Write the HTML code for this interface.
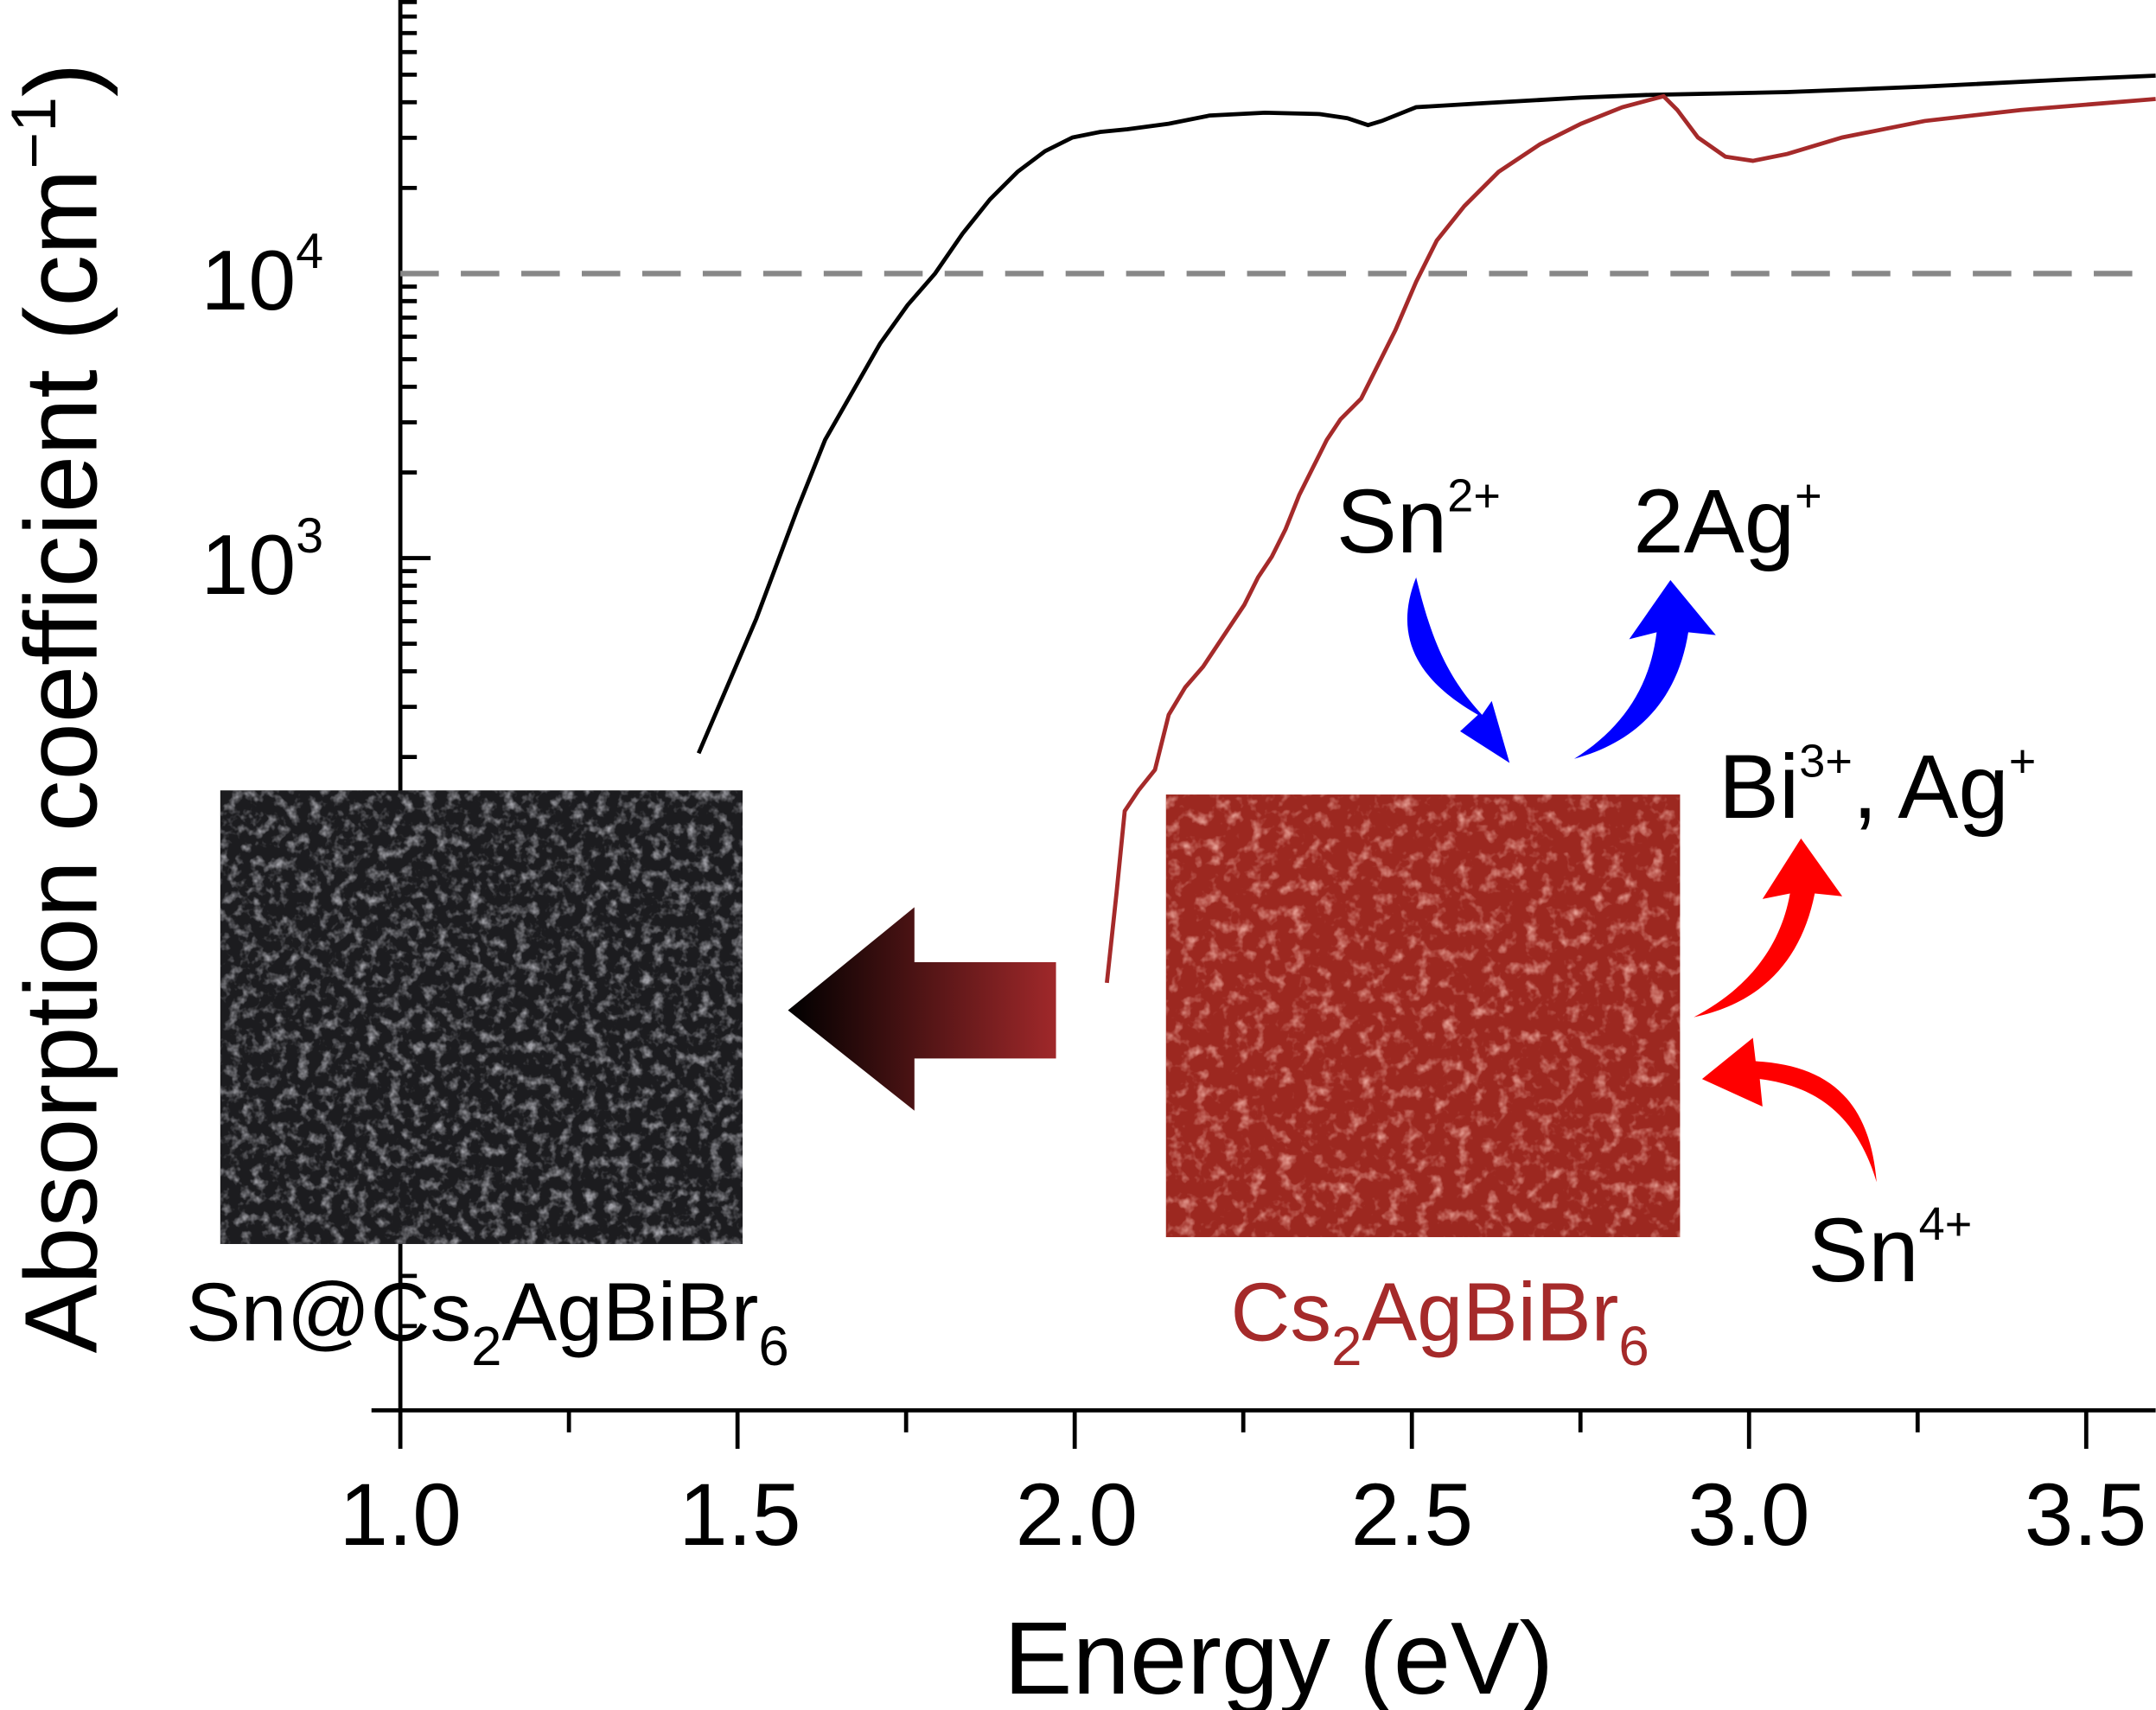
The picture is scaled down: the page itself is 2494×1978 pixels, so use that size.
<!DOCTYPE html>
<html><head><meta charset="utf-8"><style>
html,body{margin:0;padding:0;background:#fff;}
svg{display:block;}
text{font-family:"Liberation Sans",Arial,sans-serif;}
</style></head><body>
<svg id="s" width="2494" height="1978" viewBox="0 0 1568 1244" xmlns="http://www.w3.org/2000/svg">
<defs>
<linearGradient id="ag" x1="0" x2="1" y1="0" y2="0">
<stop offset="0" stop-color="#000"/><stop offset="1" stop-color="#a0282a"/>
</linearGradient>
<filter id="nb" x="0" y="0" width="100%" height="100%">
<feTurbulence type="fractalNoise" baseFrequency="0.12" numOctaves="3" seed="3"/>
<feColorMatrix type="matrix" values="0 0 0 0 0.35  0 0 0 0 0.35  0 0 0 0 0.38  0 0 0 -2.5 1.3"/>
<feComposite in2="SourceGraphic" operator="in"/>
</filter>
<filter id="nr" x="0" y="0" width="100%" height="100%">
<feTurbulence type="fractalNoise" baseFrequency="0.1" numOctaves="3" seed="7"/>
<feColorMatrix type="matrix" values="0 0 0 0 0.8  0 0 0 0 0.35  0 0 0 0 0.3  0 0 0 -2.5 1.2"/>
<feComposite in2="SourceGraphic" operator="in"/>
</filter>
</defs>
<g id="ticks" stroke="#000" stroke-width="3"></g>
<line x1="291" y1="0" x2="291" y2="1027" stroke="#000" stroke-width="3"/>
<line x1="270" y1="1026" x2="1568" y2="1026" stroke="#000" stroke-width="3"/>
<line x1="291" y1="199" x2="1562" y2="199" stroke="#888" stroke-width="4" stroke-dasharray="28,16"/>
<polyline fill="none" stroke="#000" stroke-width="3" points="508,548 520,520 535,485 550,450 565,410 580,370 600,320 620,285 640,250 660,222 680,199 700,170 720,145 740,125 760,110 780,100 800,96 820,94 850,90 880,84 920,82 960,83 980,86 995,91 1005,88 1030,78 1080,75 1150,71 1200,69 1300,67 1400,63 1500,58 1568,55"/>
<polyline fill="none" stroke="#a52a2a" stroke-width="3" points="805,715 812,650 818,590 828,575 840,560 850,520 862,500 875,485 885,470 895,455 905,440 915,420 925,405 935,385 945,360 955,340 965,320 975,305 990,290 1000,270 1015,240 1030,205 1045,175 1065,150 1090,125 1120,105 1150,90 1180,78 1210,70 1220,80 1235,100 1255,114 1275,117 1300,112 1340,100 1400,88 1470,80 1568,72"/>
<rect x="160" y="575" width="380" height="330" fill="#1c1c1f"/>
<rect x="160" y="575" width="380" height="330" fill="#000" filter="url(#nb)"/>
<rect x="848" y="578" width="374" height="322" fill="#9c2820"/>
<rect x="848" y="578" width="374" height="322" fill="#000" filter="url(#nr)"/>
<polygon points="573,735 665,660 665,700 768,700 768,770 665,770 665,808" fill="url(#ag)"/>
<path d="M1030,420 C1010,470 1040,500 1075,520 L1062,532 L1098,555 L1085,510 L1078,520 C1050,490 1040,460 1030,420 Z" fill="#0000ff"/>
<path d="M1145,552 C1180,530 1200,500 1205,460 L1185,465 L1215,422 L1248,462 L1228,460 C1220,510 1190,540 1145,552 Z" fill="#0000ff"/>
<path d="M1232,740 C1270,720 1295,690 1302,650 L1282,654 L1310,610 L1340,652 L1320,650 C1310,700 1280,730 1232,740 Z" fill="#ff0000"/>
<path d="M1365,860 C1350,810 1320,790 1280,785 L1282,805 L1238,785 L1275,755 L1277,772 C1330,775 1360,800 1365,860 Z" fill="#ff0000"/>
<text x="972" y="402" font-size="66">Sn<tspan font-size="34" dy="-30">2+</tspan></text>
<text x="1188" y="402" font-size="66">2Ag<tspan font-size="34" dy="-30">+</tspan></text>
<text x="1250" y="595" font-size="66">Bi<tspan font-size="34" dy="-30">3+</tspan><tspan dy="30">, Ag</tspan><tspan font-size="34" dy="-30">+</tspan></text>
<text x="1315" y="932" font-size="66">Sn<tspan font-size="34" dy="-30">4+</tspan></text>
<text x="135" y="975" font-size="60">Sn@Cs<tspan font-size="40" dy="18">2</tspan><tspan dy="-18">AgBiBr</tspan><tspan font-size="40" dy="18">6</tspan></text>
<text x="895" y="975" font-size="60" fill="#a52a2a">Cs<tspan font-size="40" dy="18">2</tspan><tspan dy="-18">AgBiBr</tspan><tspan font-size="40" dy="18">6</tspan></text>
<g font-size="64" text-anchor="middle">
<text x="291" y="1124">1.0</text><text x="538" y="1124">1.5</text><text x="783" y="1124">2.0</text>
<text x="1027" y="1124">2.5</text><text x="1272" y="1124">3.0</text><text x="1517" y="1124">3.5</text>
</g>
<text x="146" y="225" font-size="62">10<tspan font-size="36" dy="-30">4</tspan></text>
<text x="146" y="432" font-size="62">10<tspan font-size="36" dy="-30">3</tspan></text>
<text x="930" y="1232" font-size="75" text-anchor="middle">Energy (eV)</text>
<text transform="translate(70,515) rotate(-90)" font-size="75" text-anchor="middle">Absorption coefficient (cm<tspan font-size="46" dy="-30">−1</tspan><tspan dy="30">)</tspan></text>
</svg>
<script>
var g=document.getElementById('ticks'),ns='http://www.w3.org/2000/svg';
function L(a,b,c,d){var l=document.createElementNS(ns,'line');l.setAttribute('x1',a);l.setAttribute('y1',b);l.setAttribute('x2',c);l.setAttribute('y2',d);g.appendChild(l);}
for(var i=0;i<12;i++){var x=291+i*122.65;if(x>1568)break;L(x,1026,x,1026+(i%2?16:28));}
for(var dcd=-1;dcd<=4;dcd++){var base=406+dcd*207;
for(var m=1;m<10;m++){var y=base-207*Math.log10(m);if(y<0||y>1026)continue;L(291,y,291+(m==1?22:12),y);}}
</script>
</body></html>
